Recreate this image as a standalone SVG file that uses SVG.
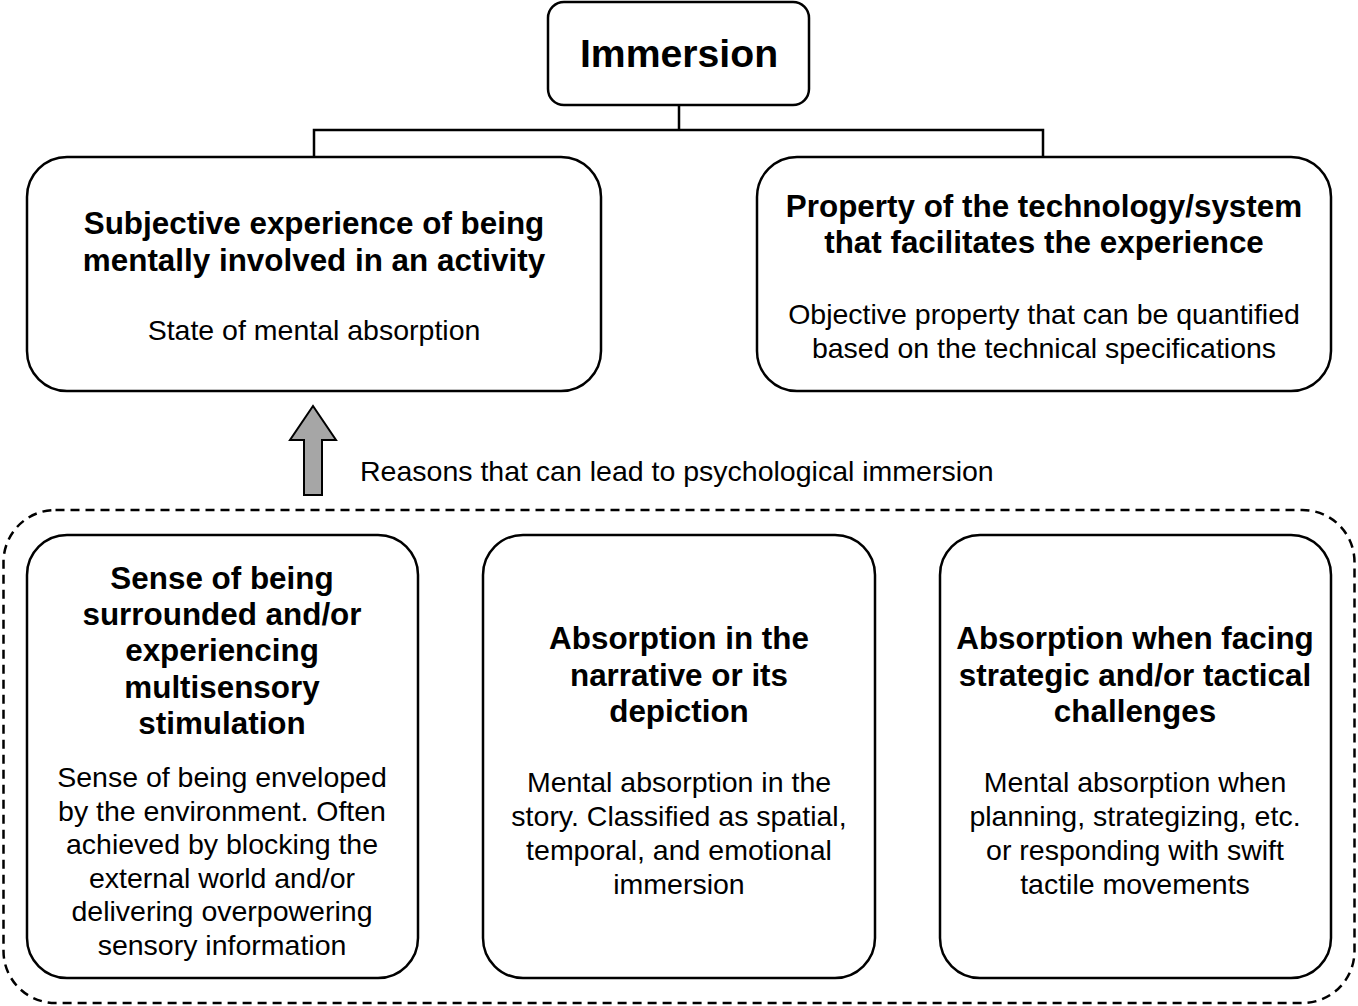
<svg xmlns="http://www.w3.org/2000/svg" width="1358" height="1006" viewBox="0 0 1358 1006">
<style>
.box{fill:#fff;stroke:#000;stroke-width:2.5}
.b{font-family:"Liberation Sans",Arial,sans-serif;font-weight:bold;font-size:31.4px;fill:#000;text-anchor:middle}
.r{font-family:"Liberation Sans",Arial,sans-serif;font-size:28.5px;fill:#000;text-anchor:middle}
.line{fill:none;stroke:#000;stroke-width:2.5}
</style>
<rect width="1358" height="1006" fill="#fff"/>
<g id="connectors">
<path class="line" d="M679,105 V130 M314,157 V130 H1043 V157"/>
<path id="arrow" d="M304,495 V440 H290 L313,406 L336,440 H322 V495 Z" fill="#a6a6a6" stroke="#000" stroke-width="2"/>
<text class="r" x="360" y="481" style="text-anchor:start">Reasons that can lead to psychological immersion</text>
</g>
<g id="group-reasons">
<rect x="3.5" y="510" width="1351" height="493" rx="52" fill="none" stroke="#000" stroke-width="2.5" stroke-dasharray="9,6"/>
</g>
<g id="immersion">
<rect class="box" x="548" y="2" width="261" height="103" rx="16"/>
<text class="b" x="679" y="67" style="font-size:39.2px">Immersion</text>
</g>
<g id="subjective">
<rect class="box" x="27" y="157" width="574" height="234" rx="40"/>
<text class="b" x="314" y="234">Subjective experience of being</text>
<text class="b" x="314" y="271">mentally involved in an activity</text>
<text class="r" x="314" y="340">State of mental absorption</text>
</g>
<g id="property">
<rect class="box" x="757" y="157" width="574" height="234" rx="40"/>
<text class="b" x="1044" y="217">Property of the technology/system</text>
<text class="b" x="1044" y="253">that facilitates the experience</text>
<text class="r" x="1044" y="324">Objective property that can be quantified</text>
<text class="r" x="1044" y="358">based on the technical specifications</text>
</g>
<g id="surrounded">
<rect class="box" x="27" y="535" width="391" height="443" rx="40"/>
<text class="b" x="222" y="589">Sense of being</text>
<text class="b" x="222" y="625">surrounded and/or</text>
<text class="b" x="222" y="661">experiencing</text>
<text class="b" x="222" y="698">multisensory</text>
<text class="b" x="222" y="734">stimulation</text>
<text class="r" x="222" y="787">Sense of being enveloped</text>
<text class="r" x="222" y="821">by the environment. Often</text>
<text class="r" x="222" y="854">achieved by blocking the</text>
<text class="r" x="222" y="888">external world and/or</text>
<text class="r" x="222" y="921">delivering overpowering</text>
<text class="r" x="222" y="955">sensory information</text>
</g>
<g id="narrative">
<rect class="box" x="483" y="535" width="392" height="443" rx="40"/>
<text class="b" x="679" y="649">Absorption in the</text>
<text class="b" x="679" y="686">narrative or its</text>
<text class="b" x="679" y="722">depiction</text>
<text class="r" x="679" y="792">Mental absorption in the</text>
<text class="r" x="679" y="826">story. Classified as spatial,</text>
<text class="r" x="679" y="860">temporal, and emotional</text>
<text class="r" x="679" y="894">immersion</text>
</g>
<g id="challenges">
<rect class="box" x="940" y="535" width="391" height="443" rx="40"/>
<text class="b" x="1135" y="649">Absorption when facing</text>
<text class="b" x="1135" y="686">strategic and/or tactical</text>
<text class="b" x="1135" y="722">challenges</text>
<text class="r" x="1135" y="792">Mental absorption when</text>
<text class="r" x="1135" y="826">planning, strategizing, etc.</text>
<text class="r" x="1135" y="860">or responding with swift</text>
<text class="r" x="1135" y="894">tactile movements</text>
</g>
</svg>
